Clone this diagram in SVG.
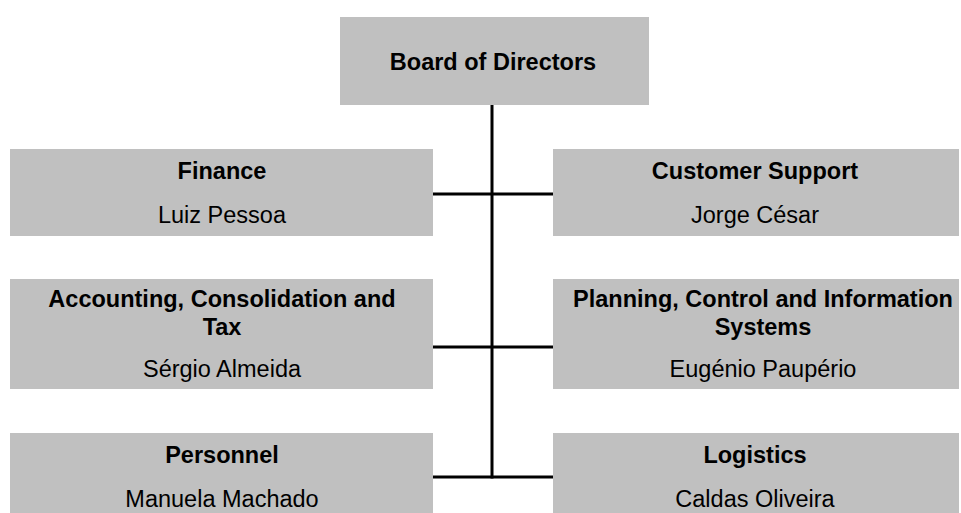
<svg xmlns="http://www.w3.org/2000/svg" width="961" height="513" viewBox="0 0 961 513">
<style>
.box{fill:#c0c0c0;stroke:none}
.t{font-family:"Liberation Sans",Arial,sans-serif;font-size:23.5px;fill:#000;text-anchor:middle}
.b{font-weight:bold}
.c{stroke:#000;stroke-width:3;fill:none}
</style>
<rect width="961" height="513" fill="#fff"/>
<g id="connectors">
<line class="c" x1="492" y1="105" x2="492" y2="478.5"/>
<line class="c" x1="433" y1="194" x2="553" y2="194"/>
<line class="c" x1="433" y1="347" x2="553" y2="347"/>
<line class="c" x1="433" y1="477" x2="553" y2="477"/>
</g>
<g id="board">
<rect class="box" x="340" y="17" width="309" height="88"/>
<text class="t b" x="493" y="70">Board of Directors</text>
</g>
<g id="finance">
<rect class="box" x="10" y="149" width="423" height="87"/>
<text class="t b" x="222" y="179">Finance</text>
<text class="t" x="222" y="223">Luiz Pessoa</text>
</g>
<g id="customer-support">
<rect class="box" x="553" y="149" width="406" height="87"/>
<text class="t b" x="755" y="179">Customer Support</text>
<text class="t" x="755" y="223">Jorge César</text>
</g>
<g id="accounting">
<rect class="box" x="10" y="279" width="423" height="110"/>
<text class="t b" x="222" y="307">Accounting, Consolidation and</text>
<text class="t b" x="222" y="335">Tax</text>
<text class="t" x="222" y="377">Sérgio Almeida</text>
</g>
<g id="planning">
<rect class="box" x="553" y="279" width="406" height="110"/>
<text class="t b" x="763" y="307">Planning, Control and Information</text>
<text class="t b" x="763" y="335">Systems</text>
<text class="t" x="763" y="377">Eugénio Paupério</text>
</g>
<g id="personnel">
<rect class="box" x="10" y="433" width="423" height="80"/>
<text class="t b" x="222" y="463">Personnel</text>
<text class="t" x="222" y="507">Manuela Machado</text>
</g>
<g id="logistics">
<rect class="box" x="553" y="433" width="406" height="80"/>
<text class="t b" x="755" y="463">Logistics</text>
<text class="t" x="755" y="507">Caldas Oliveira</text>
</g>
</svg>
